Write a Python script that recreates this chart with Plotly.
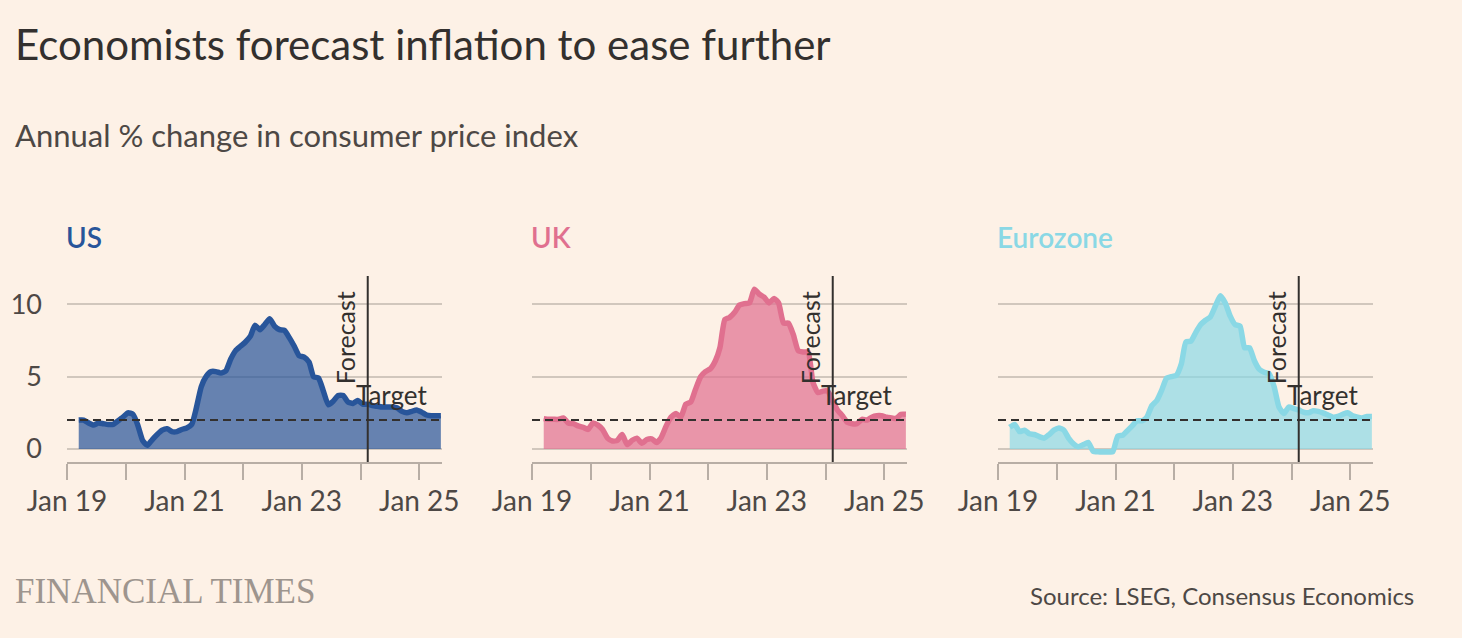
import pandas as pd
import plotly.graph_objects as go

# ---------------- data ----------------
months = (pd.date_range("2019-03-01", "2025-05-01", freq="MS") + pd.Timedelta(days=14)).strftime("%Y-%m-%d").tolist()

us_cpi = [2.0, 2.0, 1.8, 1.65, 1.8, 1.75, 1.7, 1.7, 1.95, 2.2,
          2.5, 2.4, 1.7, 0.6, 0.25, 0.65, 1.0, 1.3, 1.4, 1.2, 1.2, 1.35,
          1.45, 1.7, 2.8, 4.3, 5.0, 5.35, 5.35, 5.25, 5.4, 6.2, 6.8, 7.1,
          7.4, 7.8, 8.55, 8.25, 8.6, 9.0, 8.5, 8.25, 8.2, 7.7, 7.1, 6.45,
          6.35, 6.0, 5.0, 4.9, 4.0, 3.05, 3.3, 3.7, 3.7, 3.25, 3.15, 3.35,
          3.1, 3.1, 3.0, 2.95, 2.9, 2.9, 2.9, 2.85, 2.6, 2.5, 2.6, 2.7,
          2.55, 2.35, 2.3, 2.3, 2.3]

uk_cpi = [2.1, 2.05, 2.05, 2.05, 2.15, 1.8, 1.75, 1.6, 1.5, 1.35,
          1.8, 1.65, 1.35, 0.75, 0.55, 0.6, 1.0, 0.3, 0.6, 0.75, 0.4, 0.65,
          0.7, 0.45, 0.8, 1.6, 2.2, 2.45, 2.2, 3.1, 3.25, 4.15, 5.0, 5.35,
          5.55, 6.1, 7.0, 8.95, 9.1, 9.45, 9.95, 10.05, 10.1, 11.05, 10.7, 10.5,
          10.1, 10.4, 10.1, 8.7, 8.7, 7.9, 6.8, 6.7, 6.7, 4.6, 3.9, 4.0,
          4.0, 3.3, 2.7, 2.3, 1.85, 1.75, 1.75, 2.05, 2.0, 2.2, 2.3, 2.3,
          2.2, 2.15, 2.1, 2.4, 2.4]

ez_cpi = [1.5, 1.7, 1.2, 1.3, 1.05, 1.0, 0.85, 0.75, 1.0, 1.3,
          1.45, 1.3, 0.75, 0.35, 0.15, 0.3, 0.45, -0.15, -0.2, -0.2, -0.2, -0.2,
          0.9, 0.95, 1.25, 1.6, 1.95, 1.95, 2.2, 3.0, 3.35, 4.05, 4.9, 5.0,
          5.1, 5.9, 7.4, 7.45, 8.05, 8.6, 8.9, 9.15, 9.9, 10.6, 10.1, 9.2,
          8.6, 8.5, 7.0, 7.0, 6.1, 5.5, 5.3, 5.2, 4.3, 2.9, 2.45, 2.9,
          2.8, 2.7, 2.55, 2.5, 2.65, 2.6, 2.5, 2.35, 2.2, 2.25, 2.4, 2.5,
          2.3, 2.2, 2.15, 2.25, 2.25]

panel_names = ["US", "UK", "Eurozone"]
tick_dates = ["2019-01-01", "2020-01-01", "2021-01-01", "2022-01-01",
              "2023-01-01", "2024-01-01", "2025-01-01"]
tick_labels = ["Jan 19", "", "Jan 21", "", "Jan 23", "", "Jan 25"]
y_ticks = [0, 5, 10]
target_rate = 2
forecast_start = "2024-02-15"
x_range = ["2019-01-01", "2025-05-22"]
y_range = [-0.9, 11.96]

# ---------------- style ----------------
BG = "#fdf1e6"
FONT = "Lato"
TXT = "#33302e"
TICK_TXT = "#4d4845"
GRID = "#d1c7bd"
AXIS = "#b8aea5"
line_colors = ["#28559a", "#e0708f", "#8ad8e5"]
fill_colors = ["rgba(40,85,154,0.71)", "rgba(224,112,143,0.71)", "rgba(138,216,229,0.70)"]
series = [us_cpi, uk_cpi, ez_cpi]

W, H = 1462, 638
ML, MR, MT, MB = 67, 89, 276, 176
PW = W - ML - MR
PH = H - MT - MB
domains = [[0, 375 / PW], [465 / PW, 840 / PW], [931 / PW, 1.0]]


def px_x(px):
    return (px - ML) / PW


def px_y(py):
    return (H - MB - py) / PH


fig = go.Figure()
layout = dict(
    width=W, height=H,
    margin=dict(l=ML, r=MR, t=MT, b=MB, pad=0),
    paper_bgcolor=BG, plot_bgcolor=BG,
    font=dict(family=FONT, color=TXT),
    showlegend=False,
    hovermode=False,
)

shapes = []
annotations = []
for i, (name, vals) in enumerate(zip(panel_names, series)):
    sfx = "" if i == 0 else str(i + 1)
    fig.add_trace(go.Scatter(
        x=months, y=vals, xaxis="x" + sfx, yaxis="y" + sfx,
        mode="lines", line=dict(color=line_colors[i], width=5.5, shape="spline", smoothing=0.5),
        fill="tozeroy", fillcolor=fill_colors[i], hoverinfo="skip",
    ))
    layout["xaxis" + sfx] = dict(
        domain=domains[i], anchor="y" + sfx, type="date", range=x_range,
        tickmode="array", tickvals=tick_dates, ticktext=tick_labels,
        ticks="outside", ticklen=16, tickwidth=2, tickcolor=AXIS,
        showline=True, linecolor=AXIS, linewidth=2,
        showgrid=False, zeroline=False, ticklabelstandoff=-3,
        tickfont=dict(family=FONT, size=28, color=TICK_TXT),
    )
    layout["yaxis" + sfx] = dict(
        domain=[0, 1], anchor="x" + sfx, range=y_range,
        tickmode="array", tickvals=y_ticks,
        showgrid=True, gridcolor=GRID, gridwidth=1.6,
        zeroline=False, showline=False, ticks="",
        showticklabels=(i == 0), ticklabelstandoff=24,
        tickfont=dict(family=FONT, size=27, color=TICK_TXT),
    )
    xr = "x" + sfx
    yr = "y" + sfx
    shapes.append(dict(type="line", xref=xr + " domain", x0=0, x1=1, yref=yr,
                       y0=target_rate, y1=target_rate,
                       line=dict(color=TXT, width=2, dash="8px,5px")))
    shapes.append(dict(type="line", xref=xr, x0=forecast_start, x1=forecast_start,
                       yref=yr + " domain", y0=0, y1=1,
                       line=dict(color=TXT, width=2)))
    annotations.append(dict(xref=xr, yref=yr, x=forecast_start, y=7.7,
                            text="Forecast", textangle=-90, showarrow=False,
                            xanchor="center", yanchor="middle", xshift=-23,
                            font=dict(family=FONT, size=25, color=TXT)))
    annotations.append(dict(xref=xr, yref=yr, x=forecast_start, y=3.7,
                            text="Target", showarrow=False,
                            xanchor="left", yanchor="middle", xshift=-14,
                            font=dict(family=FONT, size=26, color=TXT)))
    annotations.append(dict(xref="paper", yref="paper", x=domains[i][0], y=px_y(237),
                            text=name, showarrow=False, xanchor="left", yanchor="middle",
                            xshift=-3,
                            font=dict(family=FONT, size=28, color=line_colors[i], weight=600)))

annotations.append(dict(xref="paper", yref="paper", x=px_x(13), y=px_y(44),
                        text="Economists forecast inflation to ease further",
                        showarrow=False, xanchor="left", yanchor="middle",
                        font=dict(family=FONT, size=42, color=TXT)))
annotations.append(dict(xref="paper", yref="paper", x=px_x(13), y=px_y(135),
                        text="Annual % change in consumer price index",
                        showarrow=False, xanchor="left", yanchor="middle",
                        font=dict(family=FONT, size=31, color="#4d4845")))
annotations.append(dict(xref="paper", yref="paper", x=px_x(13), y=px_y(591),
                        text="FINANCIAL TIMES",
                        showarrow=False, xanchor="left", yanchor="middle",
                        font=dict(family="Liberation Serif", size=35, color="#9e958e")))
annotations.append(dict(xref="paper", yref="paper", x=px_x(1416), y=px_y(595),
                        text="Source: LSEG, Consensus Economics",
                        showarrow=False, xanchor="right", yanchor="middle",
                        font=dict(family=FONT, size=24, color="#4d4845")))

layout["shapes"] = shapes
layout["annotations"] = annotations
fig.update_layout(**layout)
fig.write_html("out.html", config={"displayModeBar": False},
               post_script="document.body.style.margin='0';document.body.style.background='" + BG + "';")
